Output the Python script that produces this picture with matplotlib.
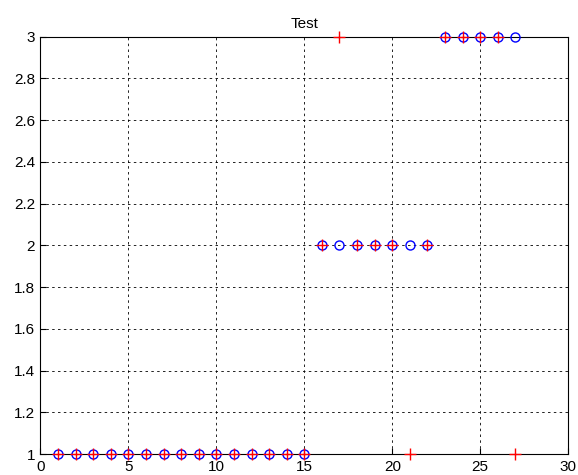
import matplotlib
matplotlib.use("Agg")
import matplotlib.pyplot as plt
import numpy as np

plt.rcParams['font.family'] = ['Liberation Sans', 'DejaVu Sans']

# true class of each sample
samples = list(range(1, 28))
true_class = [1]*15 + [2]*7 + [3]*5
# predicted class of each sample
pred_class = [1]*15 + [2, 3, 2, 2, 2, 1, 2] + [3, 3, 3, 3, 1]

fig = plt.figure(figsize=(5.78, 4.75), dpi=100)
ax = fig.add_axes([0.070, 0.044, 0.913, 0.879])

ax.plot(samples, true_class, 'o', color='blue', markerfacecolor='none',
        markersize=6.5, markeredgewidth=1.0, clip_on=False, zorder=3)
ax.plot(samples, pred_class, '+', color='red', markersize=8.5,
        markeredgewidth=1.0, clip_on=False, zorder=4)

ax.set_xlim(0, 30)
ax.set_ylim(1, 3)
ax.set_xticks(np.arange(0, 31, 5))
yt = np.round(np.arange(1, 3.01, 0.2), 1)
ax.set_yticks(yt)
ax.set_yticklabels([f"{v:g}" for v in yt])
ax.grid(True, color='black', linestyle=(0, (3, 4)), linewidth=0.6)
ax.set_axisbelow(True)
ax.tick_params(direction='in', length=4, labelsize=11, colors='black', pad=4)
for s in ax.spines.values():
    s.set_color('black')
    s.set_linewidth(0.8)
ax.set_title('Test', fontsize=11, pad=6)

fig.savefig('out.png', dpi=100)
